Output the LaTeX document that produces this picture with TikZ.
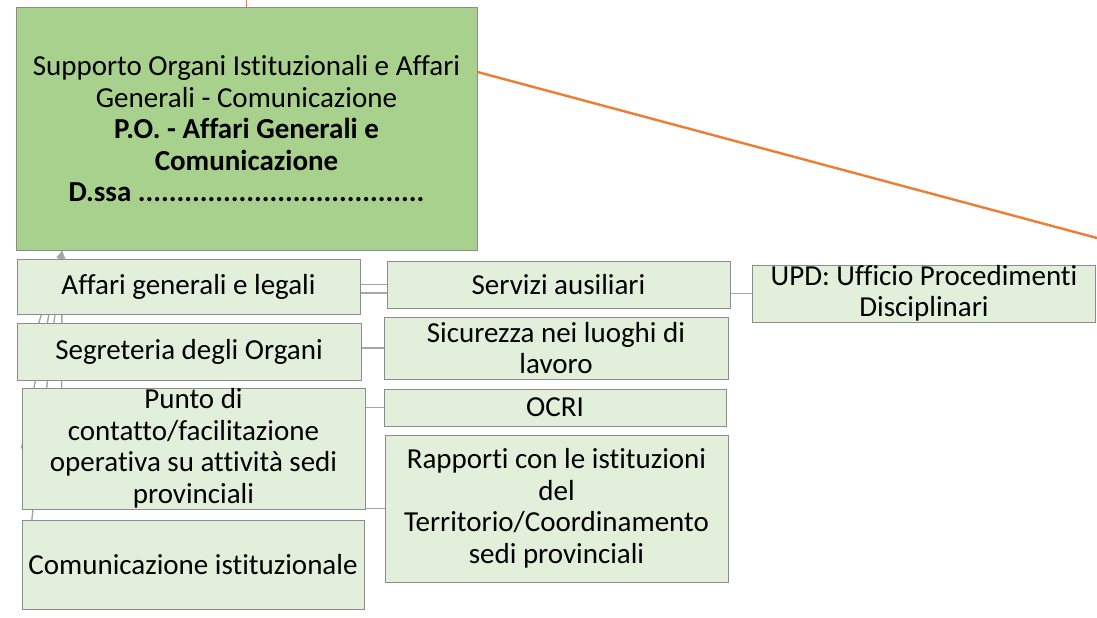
\documentclass[tikz,border=0pt]{standalone}
\usepackage{fontspec}
\setmainfont{Carlito}[Ligatures={NoCommon,NoRare,NoContextual},RawFeature={-liga;-clig;-dlig}]
\usetikzlibrary{arrows.meta,backgrounds}

\definecolor{headfill}{HTML}{A9D18E}
\definecolor{unitfill}{HTML}{E2EFDA}
\definecolor{boxline}{HTML}{8C8C8C}
\definecolor{linkgray}{HTML}{A6A6A6}
\definecolor{orangeline}{HTML}{ED7D31}

\tikzset{
  headbox/.style={draw=boxline,line width=1pt,fill=headfill,inner sep=0pt,align=center,
    font=\fontsize{29}{31.5}\selectfont},
  unitbox/.style={draw=boxline,line width=1pt,fill=unitfill,inner sep=0pt,align=center,
    font=\fontsize{29}{31.5}\selectfont},
  link/.style={draw=linkgray,line width=1.8pt},
  uplink/.style={draw=linkgray,line width=1.4pt,-{Stealth[length=8pt,width=7pt]}},
  hot/.style={draw=orangeline,line width=2.4pt}
}

\begin{document}
\begin{tikzpicture}[x=1pt,y=-1pt]
\useasboundingbox (0,0) rectangle (1097,618);

% head of the unit
\node[headbox,minimum width=461pt,minimum height=242pt] (main) at (246.5,129)
  {Supporto Organi Istituzionali e Affari\\Generali - Comunicazione\\
   \textbf{P.O. - Affari Generali e}\\\textbf{Comunicazione}\\
   \textbf{D.ssa .....................................}};

% left column
\node[unitbox,minimum width=343pt,minimum height=55pt] (affari) at (188.5,286.5)
  {Affari generali e legali};
\node[unitbox,minimum width=344pt,minimum height=57pt] (segreteria) at (189,351.5)
  {Segreteria degli Organi};
\node[unitbox,minimum width=343pt,minimum height=121pt] (punto) at (193.5,448.5)
  {Punto di\\contatto/facilitazione\\operativa su attivit\`a sedi\\provinciali};
\node[unitbox,minimum width=342pt,minimum height=89pt] (comunic) at (193,564.5)
  {Comunicazione istituzionale};

% right column
\node[unitbox,minimum width=343pt,minimum height=47pt] (servizi) at (558.5,284.5)
  {Servizi ausiliari};
\node[unitbox,minimum width=344pt,minimum height=62pt] (sicurezza) at (556,348)
  {Sicurezza nei luoghi di\\lavoro};
\node[unitbox,minimum width=342pt,minimum height=37pt] (ocri) at (555,407.5)
  {OCRI};
\node[unitbox,minimum width=343pt,minimum height=147pt] (rapporti) at (556.5,508.5)
  {Rapporti con le istituzioni\\del\\Territorio/Coordinamento\\sedi provinciali};
\node[unitbox,minimum width=343pt,minimum height=57pt] (upd) at (924,293.5)
  {UPD: Ufficio Procedimenti\\Disciplinari};

% links between the boxes
\draw[link] (servizi.west -| affari.east) -- (servizi.west);
\draw[link] ([yshift=-8.5pt]servizi.west -| affari.east) -- ([yshift=-8.5pt]servizi.west);
\draw[link] (sicurezza.west -| segreteria.east) -- (sicurezza.west);
\draw[link] (ocri.west -| punto.east) -- (ocri.west);
\draw[link] (rapporti.west -| punto.east) -- (rapporti.west);
\draw[link] (upd.west -| servizi.east) -- (upd.west);

% links up to the head, behind the boxes
\coordinate (tip) at (62,251);
\begin{scope}[on background layer]
\draw[uplink] ([xshift=45pt]affari.west) -- (tip);
\draw[uplink] ([xshift=13pt]segreteria.west) -- (tip);
\draw[uplink] (punto.west) -- (tip);
\draw[uplink] ([xshift=40pt]punto.west) -- (tip);
\draw[uplink] ([xshift=2pt,yshift=-30pt]comunic.west) -- (tip);
\end{scope}

% orange line
\coordinate (far) at (1097,238);
\draw[hot] ([yshift=57pt]main.east) -- (far);
\draw[hot,line width=0.8pt] (main.north) -- ++(0,-8);

\end{tikzpicture}
\end{document}
